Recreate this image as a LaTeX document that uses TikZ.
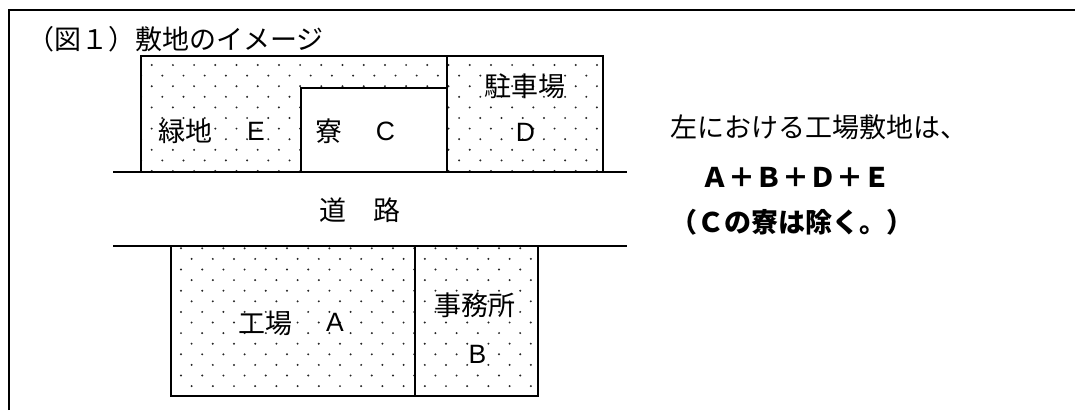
\documentclass[tikz,border=0pt]{standalone}
\usepackage{fontspec}
\newfontfamily\jp{Noto Sans CJK JP}
\newfontfamily\lat{Liberation Sans}
\begin{document}
\begin{tikzpicture}[x=1pt,y=-1pt]
\tikzset{
  lbl/.style={inner sep=0pt, font=\jp\fontsize{27}{30}\selectfont},
  ltr/.style={inner sep=0pt, font=\lat\fontsize{26.5}{30}\selectfont},
  boldtxt/.style={inner sep=0pt, font=\jp\bfseries\fontsize{27}{30}\selectfont},
  boxline/.style={line width=1.9pt},
  roadline/.style={line width=1.5pt},
  frameline/.style={line width=1.9pt},
  dotfill/.style={fill=black!85}
}
\useasboundingbox (0,0) rectangle (1075,410);
% dot pattern, upper block (minus C)
\begin{scope}
  \clip (141,56) -- (603,56) -- (603,172) -- (447,172) -- (447,88) -- (301,88) -- (301,172) -- (141,172) -- cycle;
  \foreach \k in {0,...,10} {
    \pgfmathsetmacro\yy{65+10.6*\k}
    \pgfmathsetmacro\off{mod(\k,2)*10.6}
    \foreach \m in {-15,...,9} {
      \fill[dotfill] (427.3+21.2*\m+\off,\yy) circle[radius=1.1pt];
    }
  }
\end{scope}
% dot pattern, lower block
\begin{scope}
  \clip (171,246) rectangle (538,396);
  \foreach \k in {0,...,14} {
    \pgfmathsetmacro\yy{248.3+10.6*\k}
    \pgfmathsetmacro\off{mod(\k,2)*10.6}
    \foreach \m in {-1,...,18} {
      \fill[dotfill] (181+21.2*\m+\off,\yy) circle[radius=1.1pt];
    }
  }
\end{scope}
% frame
\draw[frameline] (9,410) -- (9,10) -- (1075,10);
% upper block
\draw[boxline] (141,172) -- (141,56) -- (603,56) -- (603,172);
\draw[boxline] (447,56) -- (447,172);
\draw[boxline] (301,172) -- (301,88) -- (447,88);
% road
\draw[roadline] (113,172) -- (627,172);
\draw[roadline] (113,246) -- (627,246);
% lower block
\draw[boxline] (171,246) -- (171,396) -- (538,396) -- (538,246);
\draw[boxline] (415,246) -- (415,396);
% texts
\node[lbl, anchor=west] (title) at (27,39) {（図１）敷地のイメージ};
\node[lbl] (ryokuchi) at (185.5,131) {緑地};
\node[ltr] (E) at (256,131) {E};
\node[lbl] (ryo) at (328.5,131) {寮};
\node[ltr] (C) at (385.5,131) {C};
\node[lbl] (chusha) at (524.5,86) {駐車場};
\node[ltr] (D) at (525.5,132) {D};
\node[lbl] (doro) at (360,210) {道　路};
\node[lbl] (kojo) at (265,323) {工場};
\node[ltr] (A) at (335,322) {A};
\node[lbl] (jimusho) at (475,305) {事務所};
\node[ltr] (B) at (477.5,354) {B};
\node[lbl, anchor=west] (line1) at (670,127) {左における工場敷地は、};
\node[boldtxt, anchor=west] (line2) at (701,177) {Ａ＋Ｂ＋Ｄ＋Ｅ};
\node[boldtxt, anchor=west] (line3) at (670,222) {（Ｃの寮は除く。）};
\end{tikzpicture}
\end{document}
